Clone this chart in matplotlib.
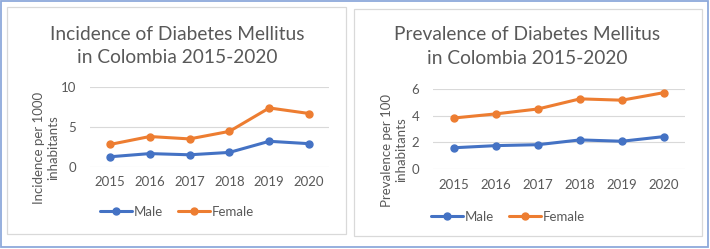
import matplotlib
matplotlib.use("Agg")
import matplotlib.pyplot as plt
from matplotlib.patches import Rectangle

plt.rcParams['font.family'] = ['Lato', 'DejaVu Sans']

years = ["2015", "2016", "2017", "2018", "2019", "2020"]
inc_male = [1.25, 1.65, 1.5, 1.8, 3.2, 2.9]
inc_female = [2.8, 3.8, 3.5, 4.45, 7.4, 6.7]
prev_male = [1.6, 1.76, 1.83, 2.19, 2.09, 2.44]
prev_female = [3.84, 4.15, 4.52, 5.28, 5.18, 5.75]

W, H = 710, 249
BLUE = "#4472C4"
ORANGE = "#ED7D31"
GRAY = "#595959"
GRID = "#D9D9D9"

fig = plt.figure(figsize=(W / 100, H / 100), dpi=100)
fig.patch.set_facecolor("white")


def rect(x0, y0, x1, y1):
    return [x0 / W, 1 - y1 / H, (x1 - x0) / W, (y1 - y0) / H]


def fx(x):
    return x / W


def fy(y):
    return 1 - y / H


# outer border
fig.add_artist(Rectangle((fx(1), fy(247)), (707) / W, 246 / H, transform=fig.transFigure,
                         fill=False, edgecolor="#8EA9DB", linewidth=1.3))
# panel borders
fig.add_artist(Rectangle((fx(7), fy(234)), 339 / W, 227 / H, transform=fig.transFigure,
                         fill=False, edgecolor=GRID, linewidth=0.9))
fig.add_artist(Rectangle((fx(354), fy(236)), 348 / W, 227 / H, transform=fig.transFigure,
                         fill=False, edgecolor=GRID, linewidth=0.9))


def panel(box, male, female, yticks, ymax, title, title_xy, ylabel, ylabel_xy, leg_xy):
    ax = fig.add_axes(rect(*box))
    x = list(range(len(years)))
    ax.plot(x, male, color=BLUE, lw=2.2, marker="o", ms=5, label="Male", solid_capstyle="round")
    ax.plot(x, female, color=ORANGE, lw=2.2, marker="o", ms=5, label="Female", solid_capstyle="round")
    ax.set_xlim(-0.5, len(years) - 0.5)
    ax.set_ylim(0, ymax)
    ax.set_yticks(yticks)
    ax.set_xticks(x)
    ax.set_xticklabels(years)
    ax.grid(axis="y", color=GRID, lw=0.8)
    ax.set_axisbelow(True)
    for s in ax.spines.values():
        s.set_visible(False)
    ax.tick_params(length=0, labelsize=9.5, labelcolor=GRAY)
    ax.tick_params(axis="y", pad=10)
    ax.tick_params(axis="x", pad=7)
    fig.text(fx(title_xy[0]), fy(title_xy[1]), title, ha="center", va="center",
             fontsize=13.8, color=GRAY, linespacing=1.45)
    fig.text(fx(ylabel_xy[0]), fy(ylabel_xy[1]), ylabel, ha="center", va="center",
             rotation=90, fontsize=9.5, color=GRAY, linespacing=1.15)
    ax.legend(loc="center", bbox_to_anchor=(fx(leg_xy[0]), fy(leg_xy[1])),
              bbox_transform=fig.transFigure, ncol=2, frameon=False, fontsize=9.5,
              labelcolor=GRAY, handlelength=2.4, handletextpad=0.1, columnspacing=1.2,
              borderpad=0)
    return ax


panel((90, 87.3, 329, 166.7), inc_male, inc_female, [0, 5, 10], 10,
      "Incidence of Diabetes Mellitus\nin Colombia 2015-2020", (177, 46),
      "Incidence per 1000\ninhabitants", (46, 148), (177, 212))
panel((433, 89.3, 685, 169), prev_male, prev_female, [0, 2, 4, 6], 6,
      "Prevalence of Diabetes Mellitus\nin Colombia 2015-2020", (527, 46.5),
      "Prevalence per 100\ninhabitants", (394, 150), (508, 217))

fig.savefig("out.png", dpi=100, facecolor="white")
